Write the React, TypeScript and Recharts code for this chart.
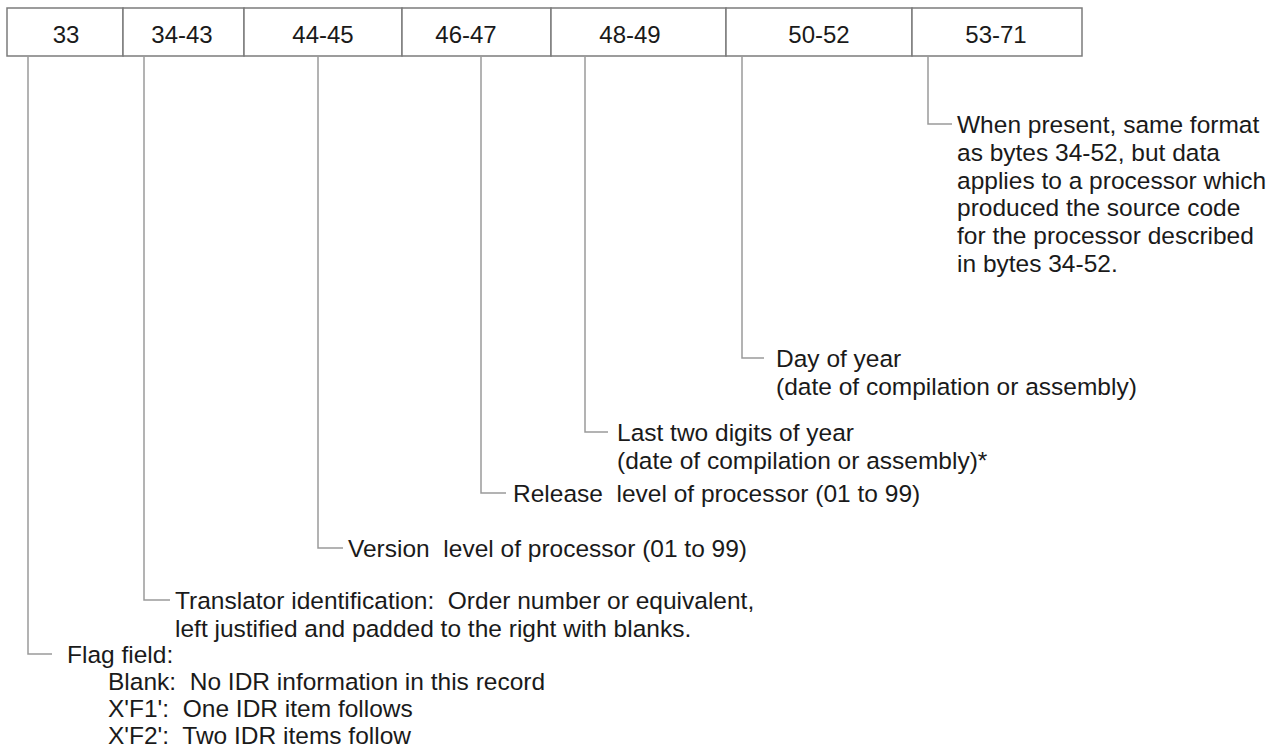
import React from 'react';
import { ComposedChart, XAxis, YAxis, ReferenceArea, Line, Scatter } from 'recharts';

// Tamaño del lienzo (coordenadas de la imagen)
const W = 1284;
const H = 753;
const FONT = '"Liberation Sans", Arial, Helvetica, sans-serif';

// Campos del registro (bytes)
const fieldLabels = ['33', '34-43', '44-45', '46-47', '48-49', '50-52', '53-71'];
const fieldEdges = [7, 123, 244, 402, 551, 726, 912, 1082];
const fieldLabelX = [66, 182, 323, 466, 630, 819, 996];
const boxTop = 8;
const boxBottom = 56;

// Líneas guía: x de la bajada, y del codo, largo del trazo horizontal
const leaderX = [28, 144, 318, 481, 585, 742, 928];
const leaderY = [654, 600, 548, 493, 432, 358, 124];
const leaderTick = [24, 26, 25, 25, 23, 22, 24];

// Textos de cada campo
const noteX = [67, 175, 348, 513, 617, 776, 957];
const noteLines: string[][] = [
  ['Flag field:'],
  ['Translator identification:  Order number or equivalent,', 'left justified and padded to the right with blanks.'],
  ['Version  level of processor (01 to 99)'],
  ['Release  level of processor (01 to 99)'],
  ['Last two digits of year', '(date of compilation or assembly)*'],
  ['Day of year', '(date of compilation or assembly)'],
  [
    'When present, same format',
    'as bytes 34-52, but data',
    'applies to a processor which',
    'produced the source code',
    'for the processor described',
    'in bytes 34-52.',
  ],
];

// Detalle del campo bandera
const flagDetails = [
  'Blank:  No IDR information in this record',
  "X'F1':  One IDR item follows",
  "X'F2':  Two IDR items follow",
];
const flagDetailX = 108;

const LINE_GAP = 27.8;
const FLAG_GAP = 27;

const notes = noteLines.map((lines, i) => ({ x: noteX[i], y: leaderY[i], lines, gap: LINE_GAP }));
notes.push({ x: flagDetailX, y: leaderY[0] + FLAG_GAP, lines: flagDetails, gap: FLAG_GAP });

const boxLabels = fieldLabels.map((label, i) => ({ x: fieldLabelX[i], y: (boxTop + boxBottom) / 2, label }));

const NoteText = (props: any) => {
  const { cx, cy, payload } = props;
  return (
    <text x={cx} y={cy + 9} fill="#1a1a1a" fontSize={24.5} fontFamily={FONT} style={{ whiteSpace: 'pre' }}>
      {payload.lines.map((t: string, k: number) => (
        <tspan key={k} x={cx} dy={k === 0 ? 0 : payload.gap}>{t}</tspan>
      ))}
    </text>
  );
};

const BoxText = (props: any) => {
  const { cx, cy, payload } = props;
  return (
    <text x={cx} y={cy + 11} textAnchor="middle" fill="#1a1a1a" fontSize={24} fontFamily={FONT}>
      {payload.label}
    </text>
  );
};

const App: React.FC = () => {
  return (
    <div style={{ position: 'absolute', left: 0, top: 0, background: '#fff' }}>
      <ComposedChart width={W} height={H} margin={{ top: 0, right: 0, bottom: 0, left: 0 }}>
        <XAxis type="number" dataKey="x" domain={[0, W]} allowDataOverflow hide />
        <YAxis type="number" dataKey="y" domain={[0, H]} reversed allowDataOverflow hide />

        {fieldLabels.map((label, i) => (
          <ReferenceArea
            key={label}
            x1={fieldEdges[i]}
            x2={fieldEdges[i + 1]}
            y1={boxTop}
            y2={boxBottom}
            fill="#ffffff"
            fillOpacity={1}
            stroke="#7c7c7c"
            strokeWidth={1.5}
          />
        ))}

        {leaderX.map((x, i) => (
          <Line
            key={'leader-' + i}
            data={[
              { x, y: boxBottom },
              { x, y: leaderY[i] },
              { x: x + leaderTick[i], y: leaderY[i] },
            ]}
            dataKey="y"
            type="linear"
            stroke="#9a9a9a"
            strokeWidth={1.5}
            dot={false}
            activeDot={false}
            isAnimationActive={false}
          />
        ))}

        <Scatter data={boxLabels} dataKey="y" shape={BoxText} isAnimationActive={false} />
        <Scatter data={notes} dataKey="y" shape={NoteText} isAnimationActive={false} />
      </ComposedChart>
    </div>
  );
};

export default App;
